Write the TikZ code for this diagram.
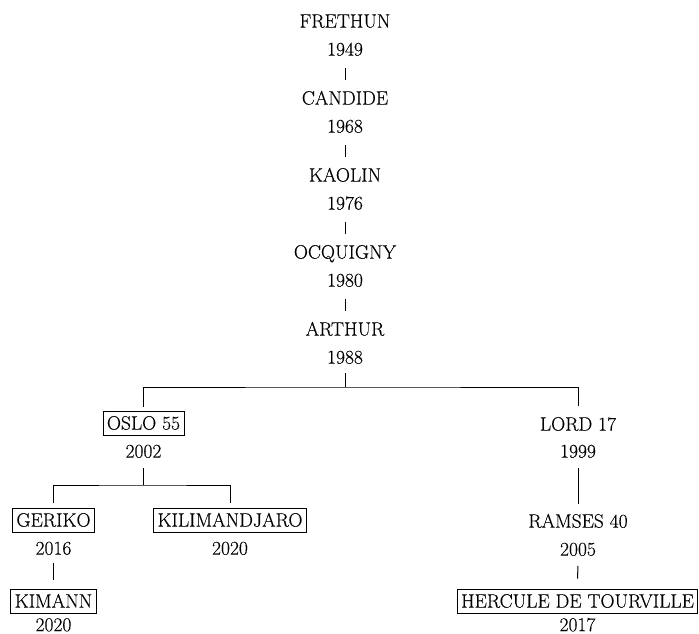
\documentclass[tikz,border=0pt]{standalone}
\usepackage{fontspec}
\setmainfont{Latin Modern Roman}[FakeBold=0.25]
\begin{document}
\begin{tikzpicture}[x=1pt,y=-1pt,
  lbl/.style={inner sep=0pt, text height=13.3pt, text depth=0pt, font=\fontsize{19.5}{22}\selectfont},
  boxed/.style={lbl, draw, line width=0.85pt, inner xsep=4pt, inner ysep=5.4pt},
  conn/.style={line width=1pt},
  tick/.style={conn, shorten <=12pt, shorten >=11pt}]
\useasboundingbox (0,0) rectangle (699,634);
% main line
\node[lbl] (frethun) at (345,21) {FRETHUN};
\node[lbl] (y1949) at (345,49) {1949};
\node[lbl] (candide) at (345,98) {CANDIDE};
\node[lbl] (y1968) at (345,126) {1968};
\node[lbl] (kaolin) at (345,175) {KAOLIN};
\node[lbl] (y1976) at (345,203) {1976};
\node[lbl] (ocquigny) at (345,252) {OCQUIGNY};
\node[lbl] (y1980) at (345,280) {1980};
\node[lbl] (arthur) at (345,329) {ARTHUR};
\node[lbl] (y1988) at (345,357) {1988};
\draw[tick] (y1949.south) -- (candide.north);
\draw[tick] (y1968.south) -- (kaolin.north);
\draw[tick] (y1976.south) -- (ocquigny.north);
\draw[tick] (y1980.south) -- (arthur.north);
% first branch
\node[boxed] (oslo) at (143.5,423) {OSLO 55};
\node[lbl] (y2002) at (143.5,451) {2002};
\node[lbl] (lord) at (578,424) {LORD 17};
\node[lbl] (y1999) at (578,451) {1999};
\coordinate (j1) at (345,387);
\draw[conn, shorten <=9.5pt] (y1988.south) -- (j1);
\draw[conn, shorten <=4pt, shorten >=11.5pt] (oslo.north) |- (j1) -| (lord.north);
% left sub-branch
\node[boxed] (geriko) at (53.5,520) {GERIKO};
\node[lbl] (y2016) at (53.5,548) {2016};
\node[boxed] (kili) at (230,520) {KILIMANDJARO};
\node[lbl] (y2020a) at (230,548) {2020};
\coordinate (j2) at (143.5,485);
\draw[conn, shorten <=10.5pt] (y2002.south) -- (j2);
\draw[conn, shorten <=4.5pt, shorten >=4.5pt] (geriko.north) |- (j2) -| (kili.north);
\node[boxed] (kimann) at (53.5,601) {KIMANN};
\node[lbl] (y2020b) at (53.5,624.5) {2020};
\draw[conn, shorten <=8.5pt, shorten >=9pt] (y2016.south) -- (kimann.north);
% right chain
\node[lbl] (ramses) at (578,521) {RAMSES 40};
\node[lbl] (y2005) at (578,549) {2005};
\draw[conn, shorten <=10.5pt, shorten >=10.5pt] (y1999.south) -- (ramses.north);
\node[boxed] (hercule) at (577.5,601) {HERCULE DE TOURVILLE};
\node[lbl] (y2017) at (577.5,624.5) {2017};
\draw[conn, shorten <=10pt, shorten >=10pt] (y2005.south) -- (hercule.north);
\end{tikzpicture}
\end{document}
